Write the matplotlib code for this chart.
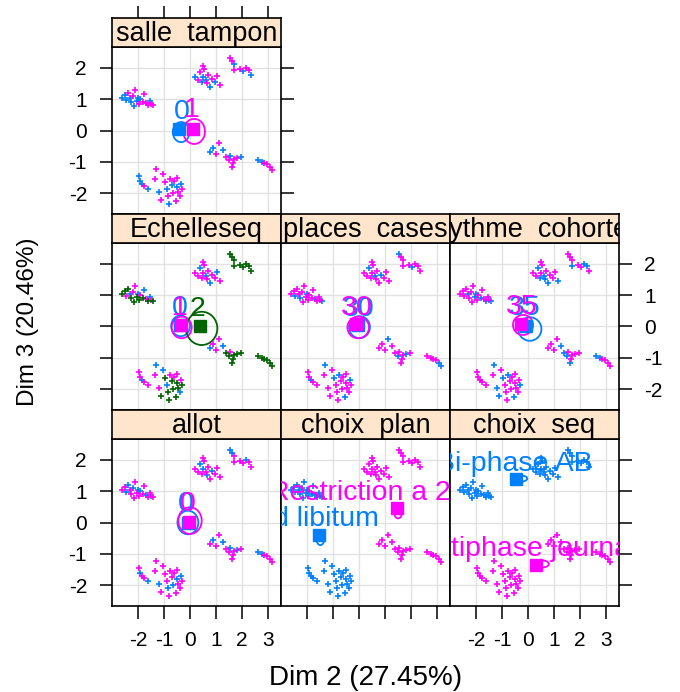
import matplotlib.pyplot as plt
from matplotlib.patches import Ellipse

plt.rcParams['font.family'] = ['Liberation Sans', 'DejaVu Sans']
plt.rcParams['axes.unicode_minus'] = False

# individuals on Dim 2 / Dim 3 (groups: left, top, top right, right, far right, bottom)
dim2 = [-2.60, -2.50, -2.45, -2.38, -2.30, -2.25, -2.20, -2.12, -2.05, -2.00,
        -1.95, -1.90, -1.82, -1.78, -1.70, -1.62, -1.55, -1.48, -1.40, -2.15,
        0.20, 0.30, 0.38, 0.45, 0.50, 0.55, 0.60, 0.65, 0.70, 0.75, 0.85, 0.95, 1.05, 1.15, 0.50,
        1.55, 1.62, 1.70, 1.68, 1.90, 2.05, 2.15, 2.25, 2.35,
        0.75, 0.90, 1.00, 1.10, 1.25, 1.40, 1.50, 1.55, 1.65, 1.70, 1.80, 1.95, 1.60,
        2.62, 2.75, 2.85, 2.95, 3.05, 3.15,
        -1.95, -1.90, -1.85, -1.75, -1.60, -1.30, -1.35, -1.20, -1.05, -0.95,
        -0.90, -0.85, -0.75, -0.70, -0.65, -0.60, -0.55, -0.50, -0.45, -0.40,
        -0.35, -0.30, -0.80, -1.10, -0.50]
dim3 = [1.05, 1.12, 0.98, 1.20, 1.02, 0.90, 1.10, 1.30, 0.95, 1.05,
        0.85, 1.00, 0.92, 1.15, 0.88, 0.80, 0.95, 0.85, 0.82, 0.78,
        1.72, 1.60, 1.85, 1.55, 1.70, 1.95, 1.62, 1.50, 1.78, 1.40, 1.65, 1.55, 1.75, 1.45, 2.05,
        2.30, 2.20, 2.12, 1.92, 1.95, 1.90, 1.98, 1.92, 1.78,
        -0.70, -0.55, -0.75, -0.40, -0.62, -0.85, -0.95, -0.80, -1.05, -0.90, -0.88, -0.85, -1.15,
        -0.95, -1.00, -1.02, -1.08, -1.15, -1.25,
        -1.45, -1.60, -1.70, -1.78, -1.85, -1.22, -1.55, -1.95, -1.40, -1.65,
        -1.85, -2.10, -1.55, -1.75, -2.00, -1.60, -2.25, -1.80, -1.95, -2.10,
        -1.70, -1.85, -2.35, -2.20, -1.50]

# category of each individual for each variable
salle_tampon = [0, 0, 0, 1, 0, 0, 1, 1, 0, 0, 1, 0, 1, 1, 1, 1, 0, 1, 1, 0,
                0, 1, 1, 0, 0, 1, 0, 1, 1, 0, 1, 0, 1, 1, 1,
                1, 1, 0, 1, 1, 0, 1, 1, 0,
                0, 0, 1, 1, 0, 1, 1, 0, 1, 1, 1, 0, 1,
                0, 0, 1, 1, 1, 1,
                0, 0, 0, 1, 0, 1, 1, 0, 1, 1, 0, 1, 1, 0, 1, 1, 1, 0, 1, 1, 0, 1, 0, 1, 1]
echelleseq = [2, 2, 1, 2, 0, 2, 1, 1, 2, 0, 2, 1, 2, 0, 1, 2, 0, 1, 2, 2,
              1, 1, 0, 1, 1, 1, 0, 1, 1, 0, 1, 1, 0, 1, 1,
              2, 2, 2, 2, 2, 2, 2, 2, 2,
              0, 1, 1, 1, 0, 2, 2, 1, 2, 2, 2, 2, 2,
              2, 2, 2, 2, 2, 2,
              1, 1, 0, 1, 1, 0, 1, 1, 0, 2, 0, 2, 1, 2, 2, 1, 2, 2, 2, 0, 1, 2, 2, 2, 1]
places_cases = [1, 1, 0, 1, 1, 0, 1, 1, 1, 0, 1, 1, 1, 1, 0, 1, 1, 1, 0, 1,
                1, 1, 0, 1, 1, 1, 0, 1, 1, 1, 0, 1, 1, 1, 1,
                0, 1, 1, 1, 1, 0, 1, 1, 1,
                1, 1, 1, 0, 1, 1, 0, 1, 1, 1, 0, 1, 1,
                1, 1, 1, 1, 0, 0,
                1, 1, 0, 1, 1, 0, 1, 1, 1, 0, 1, 1, 0, 1, 1, 1, 0, 1, 1, 1, 0, 1, 1, 1, 1]
rythme_cohorte = [1, 1, 1, 1, 0, 1, 1, 1, 0, 0, 1, 1, 0, 1, 1, 0, 1, 1, 0, 1,
                  1, 1, 0, 0, 1, 1, 0, 0, 1, 0, 1, 1, 1, 0, 1,
                  1, 1, 1, 0, 1, 1, 0, 0, 1,
                  1, 1, 1, 1, 0, 0, 0, 1, 1, 1, 1, 1, 0,
                  0, 0, 1, 1, 1, 1,
                  1, 1, 1, 1, 1, 0, 1, 0, 1, 0, 1, 1, 0, 1, 1, 1, 0, 1, 1, 1, 1, 0, 1, 0, 1]
allot = [1, 1, 0, 0, 1, 1, 0, 1, 1, 0, 1, 0, 1, 1, 0, 1, 1, 0, 1, 1,
         1, 1, 0, 1, 0, 1, 1, 0, 1, 1, 0, 1, 1, 1, 1,
         0, 0, 1, 1, 1, 1, 0, 1, 1,
         1, 0, 1, 1, 0, 1, 1, 0, 1, 1, 0, 1, 1,
         0, 0, 1, 1, 1, 1,
         1, 0, 1, 1, 0, 1, 1, 0, 1, 1, 1, 0, 1, 1, 0, 1, 1, 0, 1, 1, 0, 1, 1, 1, 1]
choix_plan = [0] * 20 + [1] * 15 + [1] * 9 + [1] * 13 + [1] * 6 + [0] * 25
choix_seq = [0] * 20 + [0] * 15 + [0] * 9 + [1] * 13 + [1] * 6 + [1] * 25

# category labels, mean points (x, y), ellipses (x, y, w, h), label spots (x, y)
salle_levels = ['0', '1']
salle_sq = [(-0.42, 0.05), (0.13, 0.05)]
salle_ell = [(-0.34, -0.05, 0.64, 0.64), (0.16, -0.03, 0.83, 0.80)]
salle_txt = [(-0.32, 0.59), (0.07, 0.64)]

echelle_levels = ['0', '1', '2']
echelle_sq = [(-0.38, 0.04), (-0.35, 0.05), (0.38, 0.0)]
echelle_ell = [(-0.36, 0.02, 0.72, 0.66), (-0.32, -0.03, 0.77, 0.69), (0.45, -0.06, 1.20, 1.06)]
echelle_txt = [(-0.40, 0.60), (-0.38, 0.59), (0.30, 0.55)]

places_levels = ['30', '30']
places_sq = [(-0.02, 0.04), (-0.13, 0.07)]
places_ell = [(0.02, -0.02, 0.80, 0.70), (-0.03, -0.03, 0.83, 0.69)]
places_txt = [(0.0, 0.57), (-0.10, 0.58)]

rythme_levels = ['35', '35']
rythme_sq = [(-0.08, 0.02), (-0.25, 0.07)]
rythme_ell = [(0.07, -0.08, 0.89, 0.75), (-0.19, 0.05, 0.77, 0.64)]
rythme_txt = [(-0.12, 0.58), (-0.22, 0.62)]

allot_levels = ['0', '0']
allot_sq = [(-0.08, 0.0), (-0.03, 0.02)]
allot_ell = [(-0.08, 0.0, 0.80, 0.75), (0.0, 0.06, 0.90, 0.85)]
allot_txt = [(-0.15, 0.58), (-0.08, 0.58)]

plan_levels = ['Ad libitum', 'Restriction a 2']
plan_sq = [(-1.55, -0.41), (1.44, 0.45)]
plan_ell = [(-1.48, -0.52, 0.30, 0.40), (1.50, 0.33, 0.30, 0.40)]
plan_txt = [(-1.62, 0.12), (0.03, 0.95)]

seq_levels = ['Bi-phase AB', 'Multiphase journalier']
seq_sq = [(-0.47, 1.38), (0.32, -1.34)]
seq_ell = [(-0.30, 1.40, 0.55, 0.20), (0.50, -1.32, 0.60, 0.24)]
seq_txt = [(-0.52, 1.86), (0.32, -0.84)]

cols = ['#0080ff', '#ff00ff', '#006400']

W, H = 680, 692
fig = plt.figure(figsize=(W / 100, H / 100), dpi=100)


def px_axes(x, y, w, h):
    return fig.add_axes([x / W, 1 - (y + h) / H, w / W, h / H])


col_left = [112, 281, 450]
row_top = [18, 214, 410]
pw, sh, ph = 169, 29, 167

# row, col, strip, codes, levels, means, ellipses, labels
panels = [
    (0, 0, 'salle  tampon', salle_tampon, salle_levels, salle_sq, salle_ell, salle_txt),
    (1, 0, 'Echelleseq', echelleseq, echelle_levels, echelle_sq, echelle_ell, echelle_txt),
    (1, 1, 'places  cases', places_cases, places_levels, places_sq, places_ell, places_txt),
    (1, 2, 'rythme  cohorte', rythme_cohorte, rythme_levels, rythme_sq, rythme_ell, rythme_txt),
    (2, 0, 'allot', allot, allot_levels, allot_sq, allot_ell, allot_txt),
    (2, 1, 'choix  plan', choix_plan, plan_levels, plan_sq, plan_ell, plan_txt),
    (2, 2, 'choix  seq', choix_seq, seq_levels, seq_sq, seq_ell, seq_txt),
]

for r, c, title, codes, levels, sq, ell, txt in panels:
    x0, y0 = col_left[c], row_top[r]
    ax = px_axes(x0, y0 + sh, pw, ph)
    ax.set_xlim(-2.99, 3.49)
    ax.set_ylim(-2.66, 2.66)
    ax.set_xticks(range(-2, 4))
    ax.set_yticks(range(-2, 3))
    ax.grid(True, color='#e2e2e2', lw=1)
    ax.set_axisbelow(True)
    for s in ax.spines.values():
        s.set_linewidth(1.2)
    ax.tick_params(direction='out', length=9, width=1.1, labelsize=15, pad=9,
                   left=(c == 0), labelleft=(c == 0 and r != 1),
                   right=(c == 2 or r == 0), labelright=(c == 2 and r == 1),
                   bottom=(r == 2), labelbottom=(r == 2 and c != 1),
                   top=False, labeltop=False)

    for k in range(len(levels)):
        xs = [dim2[i] for i in range(len(codes)) if codes[i] == k]
        ys = [dim3[i] for i in range(len(codes)) if codes[i] == k]
        ax.plot(xs, ys, '+', color=cols[k], ms=4.2, mew=1.2)
    for k in range(len(levels)):
        ex, ey, ew, eh = ell[k]
        ax.add_patch(Ellipse((ex, ey), ew, eh, fill=False, ec=cols[k], lw=1.3))
        ax.plot(sq[k][0], sq[k][1], 's', color=cols[k], ms=9)
    for k in range(len(levels)):
        ax.text(txt[k][0], txt[k][1], levels[k], color=cols[k], fontsize=20.5,
                ha='center', va='center', clip_on=True)

    st = px_axes(x0, y0, pw, sh)
    st.set_facecolor('#ffe5cc')
    st.set_xlim(-2.99, 3.49)
    st.set_ylim(0, 1)
    for s in st.spines.values():
        s.set_linewidth(1.2)
    if r == 0:
        st.set_xticks(range(-2, 4))
        st.tick_params(direction='out', length=9, width=1.1, top=True, bottom=False,
                       labeltop=False, labelbottom=False, left=False, labelleft=False)
        st.set_yticks([])
    else:
        st.set_xticks([])
        st.set_yticks([])
    st.text(0.5, 0.46, title, transform=st.transAxes, ha='center', va='center',
            fontsize=19.5, clip_on=True)

fig.text(366 / W, 1 - 678 / H, 'Dim 2 (27.45%)', ha='center', va='center', fontsize=20)
fig.text(28 / W, 1 - 322 / H, 'Dim 3 (20.46%)', ha='center', va='center',
         rotation=90, fontsize=17.5)

fig.savefig('out.png', dpi=100)
